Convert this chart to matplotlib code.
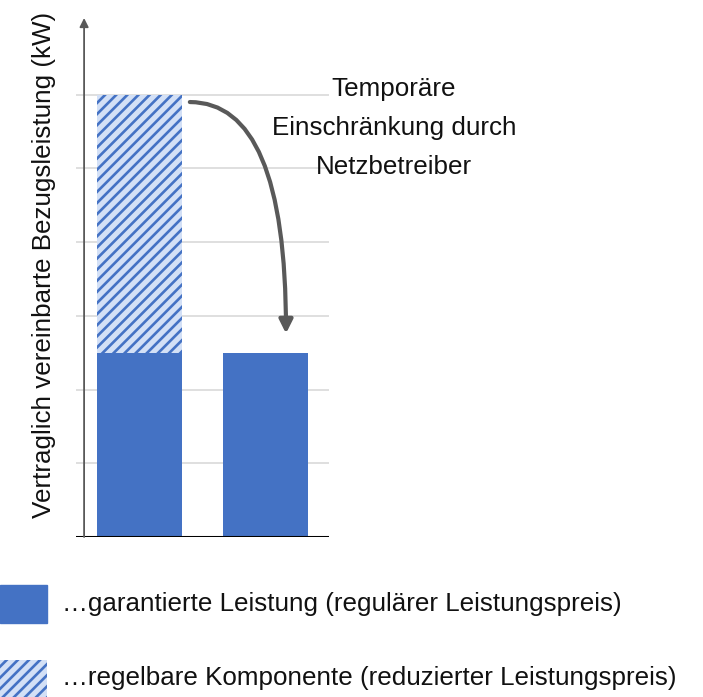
import matplotlib
matplotlib.use("Agg")
import matplotlib.pyplot as plt
from matplotlib.patches import Rectangle, FancyArrowPatch

plt.rcParams["font.family"] = ["Liberation Sans", "DejaVu Sans"]
plt.rcParams["hatch.linewidth"] = 1.9
plt.rcParams["hatch.color"] = "#4472C4"

# data
bars = ["vorher", "nachher"]
guaranteed = [2.5, 2.5]
adjustable = [3.5, 0.0]
grid_levels = [1, 2, 3, 4, 5, 6]

ylabel = "Vertraglich vereinbarte Bezugsleistung (kW)"
note = "Temporäre\nEinschränkung durch\nNetzbetreiber"
legend_labels = [
    "…garantierte Leistung (regulärer Leistungspreis)",
    "…regelbare Komponente (reduzierter Leistungspreis)",
]

BLUE = "#4472C4"
LIGHT = "#d3e0f6"
TXT = "#111111"
FS = 18.7
W, H = 703, 697

fig = plt.figure(figsize=(W / 100, H / 100), dpi=100)
# axes spans px x 76..329, y 18..537
ax = fig.add_axes([76 / W, 1 - 537 / H, (329 - 76) / W, (537 - 18) / H])
ax.set_xlim(-0.5, 1.5)
ax.set_ylim(0, 7.04)
ax.axis("off")

for g in grid_levels:
    ax.axhline(g, color="#d9d9d9", lw=1.2, zorder=0)

x = range(len(bars))
ax.bar(x, guaranteed, width=0.67, color=BLUE, zorder=2)
ax.bar(x, adjustable, width=0.67, bottom=guaranteed, color=LIGHT,
       hatch="///", edgecolor=BLUE, linewidth=0, zorder=2)

# baseline and y axis with arrow
ax.axhline(0, color="black", lw=2.2, zorder=3)
ax.annotate("", xy=(0.032, 1.0), xytext=(0.032, 0.0), xycoords="axes fraction",
            arrowprops=dict(arrowstyle="-|>", color="#595959", lw=1.3,
                            mutation_scale=13, shrinkA=0, shrinkB=0), zorder=3)

# curved arrow from top of hatched bar down to second bar
arr = FancyArrowPatch((0.4, 5.9), (1.16, 2.76),
                      connectionstyle="angle3,angleA=0,angleB=90",
                      arrowstyle="-|>", mutation_scale=20, color="#595959",
                      lw=3, shrinkA=0, shrinkB=0, zorder=4)
ax.add_patch(arr)

fig.text(394 / W, 1 - 128 / H, note, ha="center", va="center",
         fontsize=FS, linespacing=1.8, color=TXT)

fig.text(44 / W, 1 - 265 / H, ylabel, rotation=90, ha="center", va="center",
         fontsize=FS, color=TXT)

# legend
leg_ax = fig.add_axes([0, 0, 1, 1])
leg_ax.set_xlim(0, W)
leg_ax.set_ylim(H, 0)
leg_ax.axis("off")
leg_ax.add_patch(Rectangle((0, 585), 47, 38, color=BLUE))
leg_ax.add_patch(Rectangle((0, 660), 47, 38, facecolor=LIGHT, hatch="///",
                           edgecolor=BLUE, linewidth=0))
leg_ax.text(62, 604, legend_labels[0], va="center", fontsize=FS, color=TXT)
leg_ax.text(62, 678, legend_labels[1], va="center", fontsize=FS, color=TXT)

fig.savefig("out.png", dpi=100)
